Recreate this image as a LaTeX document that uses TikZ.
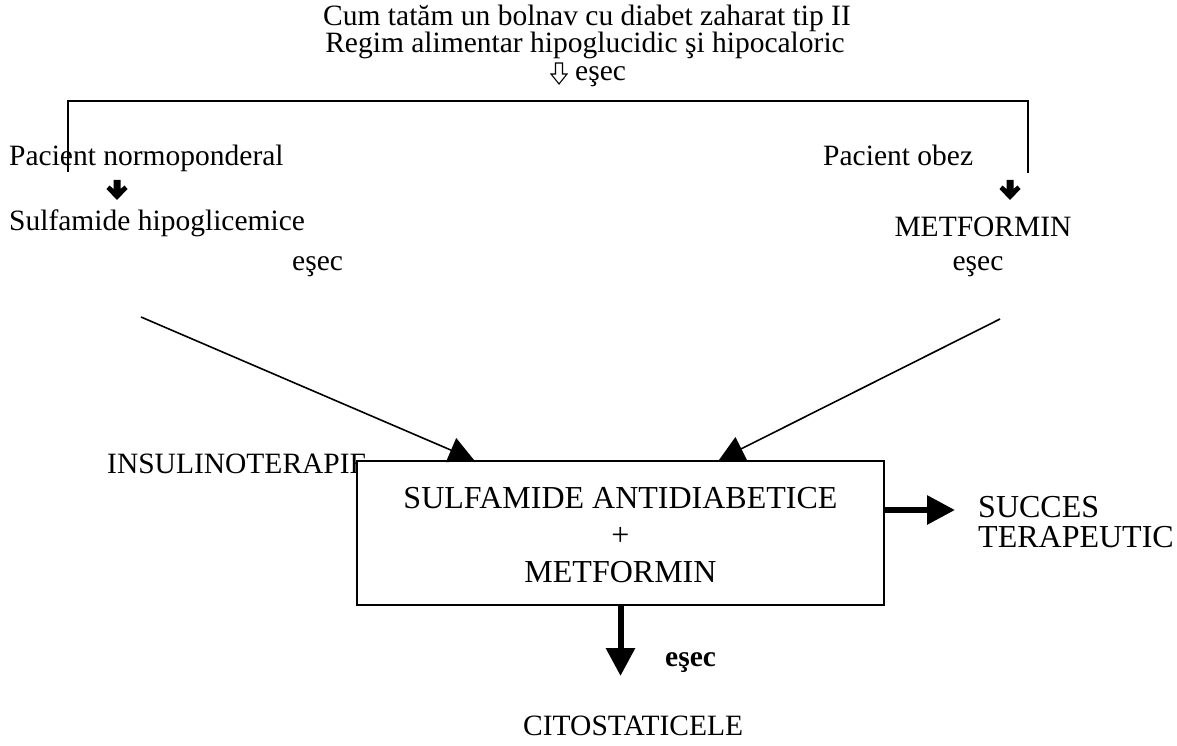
\documentclass[tikz,border=0pt]{standalone}
\usepackage{fontspec}
\setmainfont{Liberation Serif}
\usetikzlibrary{arrows.meta}
\tikzset{
  txt/.style={font=\fontsize{29.5}{34}\selectfont, inner sep=0pt, anchor=base west},
  ctxt/.style={txt, anchor=base},
  bigtxt/.style={txt, font=\fontsize{32}{37}\selectfont},
  thin/.style={line width=1.6pt},
  slimarrow/.style={thin, -{Triangle[length=25pt,width=26pt]}},
  heavyarrow/.style={line width=6pt, -{Triangle[length=28pt,width=28pt]}},
  heavydown/.pic={\fill (-3.5,0) -- (3.5,0) -- (3.5,9) -- (7.5,5.5) -- (10.5,9) -- (0,20) -- (-10.5,9) -- (-7.5,5.5) -- (-3.5,9) -- cycle;},
  opendown/.pic={\draw[line width=1.1pt, line join=miter] (-3.5,0) -- (3.5,0) -- (3.5,11) -- (8,11) -- (0,21) -- (-8,11) -- (-3.5,11) -- cycle;}
}
\begin{document}
\begin{tikzpicture}[x=1pt,y=-1pt]
\useasboundingbox (0,0) rectangle (1177,746);
% title
\node[ctxt] (t1) at (587,26) {Cum tatăm un bolnav cu diabet zaharat tip II};
\node[ctxt] (t2) at (585,53) {Regim alimentar hipoglucidic şi hipocaloric};
\pic (oa) at (559,63) {opendown};
\node[txt] (e0) at (575,81) {eşec};
% bracket
\coordinate (bl) at (68,172);
\coordinate (tl) at (68,101);
\coordinate (tr) at (1028,101);
\coordinate (br) at (1028,173);
\draw[thin] (bl) -- (tl) -- (tr) -- (br);
% left branch
\node[txt] (pn) at (9,166) {Pacient normoponderal};
\pic (ha1) at (117,180) {heavydown};
\node[txt] (sh) at (9,230) {Sulfamide hipoglicemice};
\node[txt] (e1) at (292,270) {eşec};
% right branch
\node[txt] (po) at (823,166) {Pacient obez};
\pic (ha2) at (1010,180) {heavydown};
\node[ctxt] (mf) at (983,236) {METFORMIN};
\node[ctxt] (e2) at (978,270) {eşec};
% insulinoterapie
\node[txt] (ins) at (107,473) {INSULINOTERAPIE};
% box
\node[draw, thin, fill=white, inner sep=0pt, minimum width=527pt, minimum height=144pt] (box) at (620.5,533) {};
\node[bigtxt, anchor=base] (b1) at (620.5,508) {SULFAMIDE ANTIDIABETICE};
\node[bigtxt, anchor=base] (b2) at (620.5,545) {+};
\node[bigtxt, anchor=base] (b3) at (620.5,582) {METFORMIN};
% converging arrows
\coordinate (sL) at (141,317);
\coordinate (tipL) at (474,460);
\coordinate (sR) at (1000,319);
\coordinate (tipR) at (719,460);
\draw[slimarrow] (sL) -- (tipL);
\draw[slimarrow] (sR) -- (tipR);
% success
\coordinate (succ) at (955,510);
\draw[heavyarrow] (box.east |- succ) -- (succ);
\node[bigtxt] (s1) at (978,517) {SUCCES};
\node[bigtxt] (s2) at (978,547) {TERAPEUTIC};
% failure
\coordinate (fail) at (620.5,676);
\draw[heavyarrow] (box.south) -- (fail);
\node[txt, font=\fontsize{29.5}{34}\selectfont\bfseries] (e3) at (665,666) {eşec};
\node[txt] (cit) at (523,735) {CITOSTATICELE};
\end{tikzpicture}
\end{document}
